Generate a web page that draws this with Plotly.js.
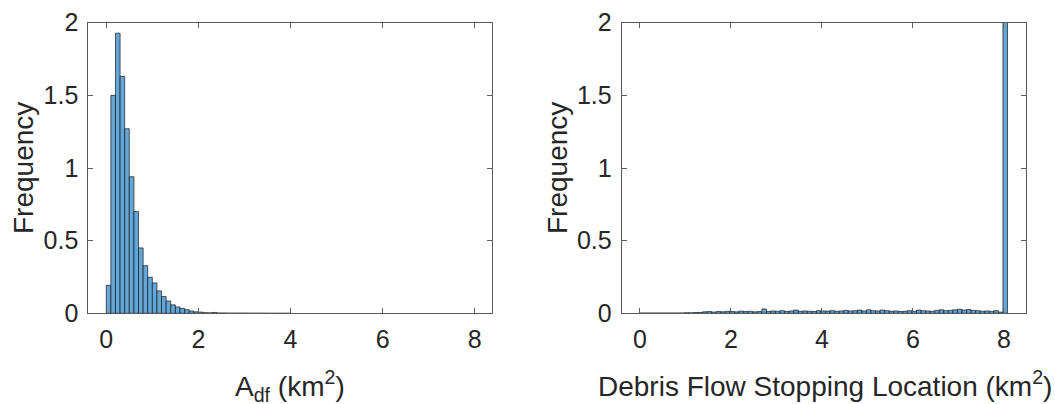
<!DOCTYPE html>
<html>
<head>
<meta charset="utf-8">
<script src="https://cdn.plot.ly/plotly-3.0.1.min.js"></script>
<style>html,body{margin:0;padding:0;background:#fff;}#chart{width:1055px;height:404px;}</style>
</head>
<body>
<div id="chart"></div>
<script>
// Left histogram: A_df (km^2), bin width 0.1 starting at 0
const areaBinStart = 0;
const areaBinWidth = 0.1;
const areaFreq = [
  0.193, 1.50, 1.928, 1.63, 1.27, 0.94, 0.70, 0.45, 0.328, 0.248,
  0.209, 0.154, 0.115, 0.085, 0.058, 0.044, 0.034, 0.025, 0.016, 0.010,
  0.008, 0.004, 0.003, 0.006, 0.002, 0.002, 0.001, 0.001, 0.001, 0.001,
  0.001, 0.0005, 0.0005, 0.0005, 0.0005, 0, 0, 0, 0, 0
];

// Right histogram: Debris Flow Stopping Location, bin width 0.1
const locBinStart = -0.02;
const locBinWidth = 0.1;
const locFreq = [
  0.002, 0.002, 0.002, 0.002, 0.002, 0.002, 0.002, 0.002, 0.002, 0.002,
  0.004, 0.003, 0.005, 0.006, 0.010, 0.012, 0.008, 0.012, 0.010, 0.014,
  0.012, 0.010, 0.015, 0.012, 0.014, 0.010, 0.012, 0.030, 0.013, 0.016,
  0.014, 0.018, 0.013, 0.016, 0.022, 0.014, 0.016, 0.014, 0.012, 0.018,
  0.016, 0.015, 0.018, 0.014, 0.016, 0.020, 0.016, 0.018, 0.022, 0.016,
  0.024, 0.018, 0.016, 0.022, 0.018, 0.014, 0.016, 0.012, 0.014, 0.018,
  0.014, 0.022, 0.018, 0.016, 0.014, 0.020, 0.024, 0.018, 0.020, 0.024,
  0.028, 0.022, 0.026, 0.020, 0.018, 0.014, 0.016, 0.014, 0.018, 0.008,
  4.6
];

const xTicks = [0, 2, 4, 6, 8];
const yTicks = [0, 0.5, 1, 1.5, 2];
const yTickText = ['0', '0.5', '1', '1.5', '2'];

const barColor = '#62a7d8';
const edge = {color: 'rgba(20,20,20,0.85)', width: 0.8};

const traces = [
  {type: 'bar', x0: areaBinStart + areaBinWidth / 2, dx: areaBinWidth, y: areaFreq,
   width: areaBinWidth, marker: {color: barColor, line: edge}, xaxis: 'x', yaxis: 'y', hoverinfo: 'none'},
  {type: 'bar', x0: locBinStart + locBinWidth / 2, dx: locBinWidth, y: locFreq,
   width: locBinWidth, marker: {color: barColor, line: edge}, xaxis: 'x2', yaxis: 'y2', hoverinfo: 'none'}
];

const font = {family: 'Liberation Sans, Arial, sans-serif', color: '#262626'};
const tickFont = Object.assign({}, font, {size: 25});
const axBase = {
  showline: true, linecolor: '#5a5a5a', linewidth: 1, mirror: 'ticks',
  ticks: 'inside', ticklen: 5, tickcolor: '#5a5a5a', tickwidth: 1,
  showgrid: false, zeroline: false, tickfont: tickFont, automargin: false, fixedrange: true,
  ticklabelstandoff: 4
};

const W = 1055, H = 404;
const titleFont = Object.assign({}, font, {size: 28});
const layout = {
  width: W, height: H,
  margin: {l: 0, r: 0, t: 0, b: 0},
  paper_bgcolor: '#fff', plot_bgcolor: '#fff',
  showlegend: false, bargap: 0,
  font: font,
  xaxis: Object.assign({}, axBase, {domain: [88.3 / W, 492.3 / W], range: [-0.39, 8.38], tickvals: xTicks, anchor: 'y'}),
  yaxis: Object.assign({}, axBase, {domain: [1 - 313.3 / H, 1 - 22.7 / H], range: [0, 2], tickvals: yTicks, ticktext: yTickText, anchor: 'x'}),
  xaxis2: Object.assign({}, axBase, {domain: [621.7 / W, 1025.7 / W], range: [-0.40, 8.48], tickvals: xTicks, anchor: 'y2'}),
  yaxis2: Object.assign({}, axBase, {domain: [1 - 313.3 / H, 1 - 22.7 / H], range: [0, 2], tickvals: yTicks, ticktext: yTickText, anchor: 'x2'}),
  annotations: [
    {text: 'Frequency', xref: 'paper', yref: 'paper', x: 24 / W, y: 1 - 168 / H, textangle: -90,
     showarrow: false, xanchor: 'center', yanchor: 'middle', font: titleFont},
    {text: 'Frequency', xref: 'paper', yref: 'paper', x: 558 / W, y: 1 - 168 / H, textangle: -90,
     showarrow: false, xanchor: 'center', yanchor: 'middle', font: titleFont},
    {text: 'A<sub>df</sub> (km<sup>2</sup>)', xref: 'paper', yref: 'paper', x: 290 / W, y: 1 - 386 / H,
     showarrow: false, xanchor: 'center', yanchor: 'middle', font: titleFont},
    {text: 'Debris Flow Stopping Location (km<sup>2</sup>)', xref: 'paper', yref: 'paper', x: 825 / W, y: 1 - 384 / H,
     showarrow: false, xanchor: 'center', yanchor: 'middle', font: titleFont}
  ]
};

Plotly.newPlot('chart', traces, layout, {staticPlot: true, displayModeBar: false});
</script>
</body>
</html>
